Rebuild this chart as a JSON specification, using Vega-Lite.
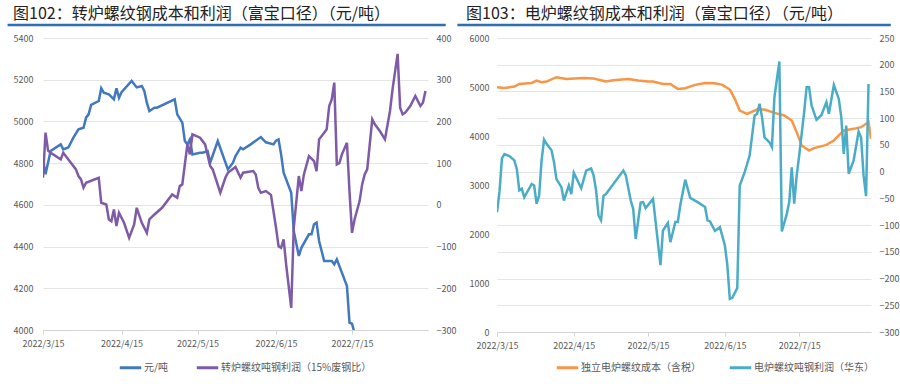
{
  "$schema": "https://vega.github.io/schema/vega-lite/v6.json",
  "background": "white",
  "padding": {"left": 5, "top": 5, "right": 1, "bottom": 2},
  "config": {
    "font": "Noto Sans CJK SC",
    "view": {"stroke": null},
    "axis": {"labelFont": "Noto Sans CJK SC", "labelFontSize": 9, "labelColor": "#595959", "domain": false, "ticks": false, "gridColor": "#e4e4e4", "gridWidth": 1},
    "legend": {"labelFont": "Noto Sans CJK SC", "labelFontSize": 10, "labelColor": "#595959", "symbolType": "stroke", "symbolStrokeWidth": 3, "symbolSize": 460, "labelOffset": 1, "columnPadding": 22, "padding": 0},
    "title": {"font": "Noto Sans CJK SC", "fontSize": 16, "fontWeight": "normal", "color": "#222222", "anchor": "start", "frame": "bounds"}
  },
  "datasets": {
    "bof_cost": [
      {"date": "2022/03/15", "value": 4818}, {"date": "2022/03/16", "value": 4747}, {"date": "2022/03/18", "value": 4858},
      {"date": "2022/03/22", "value": 4890}, {"date": "2022/03/23", "value": 4866}, {"date": "2022/03/25", "value": 4875},
      {"date": "2022/03/27", "value": 4922}, {"date": "2022/03/29", "value": 4962}, {"date": "2022/03/31", "value": 4970},
      {"date": "2022/04/01", "value": 5018}, {"date": "2022/04/02", "value": 5034}, {"date": "2022/04/03", "value": 5079},
      {"date": "2022/04/06", "value": 5098}, {"date": "2022/04/07", "value": 5159}, {"date": "2022/04/08", "value": 5138},
      {"date": "2022/04/10", "value": 5130}, {"date": "2022/04/12", "value": 5106}, {"date": "2022/04/13", "value": 5159},
      {"date": "2022/04/14", "value": 5113}, {"date": "2022/04/15", "value": 5140}, {"date": "2022/04/19", "value": 5194},
      {"date": "2022/04/21", "value": 5163}, {"date": "2022/04/23", "value": 5170}, {"date": "2022/04/24", "value": 5146},
      {"date": "2022/04/25", "value": 5090}, {"date": "2022/04/26", "value": 5050}, {"date": "2022/04/28", "value": 5066},
      {"date": "2022/04/29", "value": 5066}, {"date": "2022/05/06", "value": 5106}, {"date": "2022/05/07", "value": 5034},
      {"date": "2022/05/09", "value": 4994}, {"date": "2022/05/10", "value": 4906}, {"date": "2022/05/11", "value": 4890},
      {"date": "2022/05/12", "value": 4914}, {"date": "2022/05/13", "value": 4842}, {"date": "2022/05/16", "value": 4850},
      {"date": "2022/05/17", "value": 4850}, {"date": "2022/05/19", "value": 4858}, {"date": "2022/05/20", "value": 4802},
      {"date": "2022/05/23", "value": 4906}, {"date": "2022/05/27", "value": 4770}, {"date": "2022/05/29", "value": 4802},
      {"date": "2022/05/30", "value": 4834}, {"date": "2022/06/01", "value": 4874}, {"date": "2022/06/02", "value": 4866},
      {"date": "2022/06/05", "value": 4890}, {"date": "2022/06/09", "value": 4925}, {"date": "2022/06/11", "value": 4900},
      {"date": "2022/06/14", "value": 4890}, {"date": "2022/06/15", "value": 4908}, {"date": "2022/06/16", "value": 4914},
      {"date": "2022/06/17", "value": 4842}, {"date": "2022/06/18", "value": 4754}, {"date": "2022/06/21", "value": 4658},
      {"date": "2022/06/22", "value": 4475}, {"date": "2022/06/24", "value": 4355}, {"date": "2022/06/25", "value": 4394},
      {"date": "2022/06/28", "value": 4459}, {"date": "2022/06/29", "value": 4459}, {"date": "2022/06/30", "value": 4507},
      {"date": "2022/07/01", "value": 4515}, {"date": "2022/07/02", "value": 4427}, {"date": "2022/07/04", "value": 4331},
      {"date": "2022/07/07", "value": 4331}, {"date": "2022/07/08", "value": 4315}, {"date": "2022/07/09", "value": 4339},
      {"date": "2022/07/11", "value": 4275}, {"date": "2022/07/13", "value": 4211}, {"date": "2022/07/14", "value": 4035},
      {"date": "2022/07/15", "value": 4030}, {"date": "2022/07/16", "value": 3985}
    ],
    "bof_profit": [
      {"date": "2022/03/15", "value": 65}, {"date": "2022/03/16", "value": 173}, {"date": "2022/03/17", "value": 130},
      {"date": "2022/03/18", "value": 125}, {"date": "2022/03/22", "value": 109}, {"date": "2022/03/23", "value": 125},
      {"date": "2022/03/26", "value": 101}, {"date": "2022/03/28", "value": 85}, {"date": "2022/03/29", "value": 69},
      {"date": "2022/03/30", "value": 61}, {"date": "2022/03/31", "value": 41}, {"date": "2022/04/01", "value": 53},
      {"date": "2022/04/06", "value": 65}, {"date": "2022/04/07", "value": 5}, {"date": "2022/04/09", "value": 1},
      {"date": "2022/04/10", "value": -35}, {"date": "2022/04/11", "value": -39}, {"date": "2022/04/12", "value": -11},
      {"date": "2022/04/13", "value": -51}, {"date": "2022/04/14", "value": -19}, {"date": "2022/04/16", "value": -43},
      {"date": "2022/04/18", "value": -79}, {"date": "2022/04/20", "value": -47}, {"date": "2022/04/21", "value": -7},
      {"date": "2022/04/23", "value": -43}, {"date": "2022/04/25", "value": -67}, {"date": "2022/04/26", "value": -35},
      {"date": "2022/04/28", "value": -23}, {"date": "2022/05/01", "value": -7}, {"date": "2022/05/05", "value": 25},
      {"date": "2022/05/07", "value": 17}, {"date": "2022/05/08", "value": 45}, {"date": "2022/05/09", "value": 49},
      {"date": "2022/05/11", "value": 145}, {"date": "2022/05/12", "value": 121}, {"date": "2022/05/13", "value": 169},
      {"date": "2022/05/16", "value": 161}, {"date": "2022/05/18", "value": 145}, {"date": "2022/05/20", "value": 93},
      {"date": "2022/05/21", "value": 85}, {"date": "2022/05/24", "value": 29}, {"date": "2022/05/26", "value": 65},
      {"date": "2022/05/27", "value": 77}, {"date": "2022/05/30", "value": 91}, {"date": "2022/06/01", "value": 65},
      {"date": "2022/06/02", "value": 77}, {"date": "2022/06/06", "value": 81}, {"date": "2022/06/07", "value": 73},
      {"date": "2022/06/08", "value": 41}, {"date": "2022/06/09", "value": 29}, {"date": "2022/06/11", "value": 33},
      {"date": "2022/06/13", "value": 24}, {"date": "2022/06/15", "value": -55}, {"date": "2022/06/16", "value": -99},
      {"date": "2022/06/17", "value": -103}, {"date": "2022/06/18", "value": -83}, {"date": "2022/06/19", "value": -143},
      {"date": "2022/06/21", "value": -247}, {"date": "2022/06/22", "value": -55}, {"date": "2022/06/24", "value": 69},
      {"date": "2022/06/25", "value": 33}, {"date": "2022/06/26", "value": 73}, {"date": "2022/06/28", "value": 117},
      {"date": "2022/06/30", "value": 105}, {"date": "2022/07/01", "value": 81}, {"date": "2022/07/02", "value": 157},
      {"date": "2022/07/04", "value": 173}, {"date": "2022/07/05", "value": 181}, {"date": "2022/07/06", "value": 237},
      {"date": "2022/07/07", "value": 253}, {"date": "2022/07/08", "value": 293}, {"date": "2022/07/09", "value": 97},
      {"date": "2022/07/10", "value": 100}, {"date": "2022/07/11", "value": 121}, {"date": "2022/07/13", "value": 149},
      {"date": "2022/07/14", "value": 33}, {"date": "2022/07/15", "value": -67}, {"date": "2022/07/16", "value": -35},
      {"date": "2022/07/18", "value": 9}, {"date": "2022/07/19", "value": 49}, {"date": "2022/07/20", "value": 73},
      {"date": "2022/07/21", "value": 85}, {"date": "2022/07/23", "value": 205}, {"date": "2022/07/24", "value": 193},
      {"date": "2022/07/26", "value": 177}, {"date": "2022/07/28", "value": 157}, {"date": "2022/07/30", "value": 225},
      {"date": "2022/07/31", "value": 277}, {"date": "2022/08/02", "value": 362}, {"date": "2022/08/03", "value": 233},
      {"date": "2022/08/04", "value": 217}, {"date": "2022/08/05", "value": 221}, {"date": "2022/08/07", "value": 237},
      {"date": "2022/08/09", "value": 261}, {"date": "2022/08/11", "value": 237}, {"date": "2022/08/12", "value": 245},
      {"date": "2022/08/13", "value": 273}
    ],
    "eaf_cost": [
      {"date": "2022/03/15", "value": 4995}, {"date": "2022/03/18", "value": 4982}, {"date": "2022/03/22", "value": 5009},
      {"date": "2022/03/24", "value": 5063}, {"date": "2022/03/29", "value": 5083}, {"date": "2022/03/31", "value": 5132},
      {"date": "2022/04/02", "value": 5097}, {"date": "2022/04/04", "value": 5111}, {"date": "2022/04/08", "value": 5200},
      {"date": "2022/04/12", "value": 5165}, {"date": "2022/04/19", "value": 5185}, {"date": "2022/04/23", "value": 5175},
      {"date": "2022/04/28", "value": 5111}, {"date": "2022/05/01", "value": 5138}, {"date": "2022/05/07", "value": 5165},
      {"date": "2022/05/11", "value": 5132}, {"date": "2022/05/15", "value": 5111}, {"date": "2022/05/17", "value": 5111},
      {"date": "2022/05/21", "value": 5063}, {"date": "2022/05/24", "value": 5063}, {"date": "2022/05/27", "value": 4961},
      {"date": "2022/05/30", "value": 4975}, {"date": "2022/06/03", "value": 5043}, {"date": "2022/06/07", "value": 5083},
      {"date": "2022/06/11", "value": 5077}, {"date": "2022/06/14", "value": 5043}, {"date": "2022/06/17", "value": 4948},
      {"date": "2022/06/19", "value": 4757}, {"date": "2022/06/21", "value": 4520}, {"date": "2022/06/24", "value": 4452},
      {"date": "2022/06/28", "value": 4540}, {"date": "2022/07/01", "value": 4541}, {"date": "2022/07/05", "value": 4472},
      {"date": "2022/07/09", "value": 4418}, {"date": "2022/07/12", "value": 4316}, {"date": "2022/07/14", "value": 4078},
      {"date": "2022/07/16", "value": 3807}, {"date": "2022/07/19", "value": 3705}, {"date": "2022/07/21", "value": 3752},
      {"date": "2022/07/26", "value": 3819}, {"date": "2022/07/29", "value": 3909}, {"date": "2022/08/02", "value": 4113},
      {"date": "2022/08/06", "value": 4146}, {"date": "2022/08/09", "value": 4180}, {"date": "2022/08/12", "value": 4282},
      {"date": "2022/08/13", "value": 3941}
    ],
    "eaf_profit": [
      {"date": "2022/03/15", "value": -76}, {"date": "2022/03/16", "value": -38}, {"date": "2022/03/17", "value": 25},
      {"date": "2022/03/18", "value": 33}, {"date": "2022/03/20", "value": 29}, {"date": "2022/03/22", "value": 21},
      {"date": "2022/03/23", "value": 5}, {"date": "2022/03/24", "value": -35}, {"date": "2022/03/25", "value": -32},
      {"date": "2022/03/26", "value": -48}, {"date": "2022/03/29", "value": -23}, {"date": "2022/03/30", "value": -26},
      {"date": "2022/03/31", "value": -60}, {"date": "2022/04/01", "value": -45}, {"date": "2022/04/02", "value": 21},
      {"date": "2022/04/03", "value": 60}, {"date": "2022/04/04", "value": 52}, {"date": "2022/04/06", "value": 40},
      {"date": "2022/04/07", "value": 18}, {"date": "2022/04/08", "value": -14}, {"date": "2022/04/10", "value": -29},
      {"date": "2022/04/11", "value": -54}, {"date": "2022/04/13", "value": -26}, {"date": "2022/04/14", "value": -42},
      {"date": "2022/04/15", "value": -2}, {"date": "2022/04/18", "value": -31}, {"date": "2022/04/20", "value": 2},
      {"date": "2022/04/22", "value": 6}, {"date": "2022/04/23", "value": -7}, {"date": "2022/04/24", "value": -35},
      {"date": "2022/04/25", "value": -82}, {"date": "2022/04/26", "value": -91}, {"date": "2022/04/27", "value": -45},
      {"date": "2022/04/28", "value": -42}, {"date": "2022/05/05", "value": 2}, {"date": "2022/05/06", "value": -7},
      {"date": "2022/05/08", "value": -54}, {"date": "2022/05/09", "value": -70}, {"date": "2022/05/10", "value": -126},
      {"date": "2022/05/12", "value": -58}, {"date": "2022/05/13", "value": -57}, {"date": "2022/05/14", "value": -68},
      {"date": "2022/05/17", "value": -51}, {"date": "2022/05/20", "value": -175}, {"date": "2022/05/21", "value": -110},
      {"date": "2022/05/23", "value": -96}, {"date": "2022/05/24", "value": -132}, {"date": "2022/05/26", "value": -94},
      {"date": "2022/05/27", "value": -94}, {"date": "2022/05/28", "value": -63}, {"date": "2022/05/30", "value": -15},
      {"date": "2022/06/01", "value": -49}, {"date": "2022/06/04", "value": -57}, {"date": "2022/06/07", "value": -66},
      {"date": "2022/06/08", "value": -91}, {"date": "2022/06/09", "value": -93}, {"date": "2022/06/11", "value": -111},
      {"date": "2022/06/13", "value": -104}, {"date": "2022/06/15", "value": -138}, {"date": "2022/06/16", "value": -175},
      {"date": "2022/06/17", "value": -238}, {"date": "2022/06/18", "value": -236}, {"date": "2022/06/20", "value": -218},
      {"date": "2022/06/21", "value": -26}, {"date": "2022/06/23", "value": -1}, {"date": "2022/06/25", "value": 30},
      {"date": "2022/06/27", "value": 105}, {"date": "2022/06/28", "value": 108}, {"date": "2022/06/29", "value": 127},
      {"date": "2022/06/30", "value": 102}, {"date": "2022/07/01", "value": 64}, {"date": "2022/07/03", "value": 55},
      {"date": "2022/07/04", "value": 46}, {"date": "2022/07/05", "value": 139}, {"date": "2022/07/07", "value": 206},
      {"date": "2022/07/08", "value": -112}, {"date": "2022/07/10", "value": -79}, {"date": "2022/07/11", "value": -57},
      {"date": "2022/07/12", "value": 8}, {"date": "2022/07/13", "value": -60}, {"date": "2022/07/14", "value": -7},
      {"date": "2022/07/15", "value": 30}, {"date": "2022/07/17", "value": 111}, {"date": "2022/07/18", "value": 158},
      {"date": "2022/07/19", "value": 158}, {"date": "2022/07/20", "value": 124}, {"date": "2022/07/22", "value": 97},
      {"date": "2022/07/24", "value": 106}, {"date": "2022/07/26", "value": 130}, {"date": "2022/07/27", "value": 108},
      {"date": "2022/07/29", "value": 162}, {"date": "2022/07/31", "value": 136}, {"date": "2022/08/01", "value": 102},
      {"date": "2022/08/02", "value": 33}, {"date": "2022/08/03", "value": 86}, {"date": "2022/08/04", "value": -4},
      {"date": "2022/08/06", "value": 21}, {"date": "2022/08/08", "value": 75}, {"date": "2022/08/09", "value": 64},
      {"date": "2022/08/10", "value": -7}, {"date": "2022/08/11", "value": -46}, {"date": "2022/08/12", "value": 164}
    ]
  },
  "spacing": 0,
  "resolve": {"scale": {"x": "independent", "y": "independent", "color": "independent"}, "legend": {"color": "independent"}},
  "hconcat": [
    {
      "width": 385, "height": 292,
      "title": {"text": "图102：转炉螺纹钢成本和利润（富宝口径）（元/吨）", "anchor": "start", "align": "left", "frame": "bounds", "dx": 8, "offset": 2},
      "resolve": {"scale": {"y": "independent"}},
      "layer": [
        {
          "data": {"name": "bof_cost"},
          "mark": {"type": "line", "clip": true, "strokeWidth": 2.5},
          "encoding": {
            "x": {"field": "date", "type": "temporal",
              "scale": {"domain": [{"year": 2022, "month": 3, "date": 15}, {"year": 2022, "month": 8, "date": 14}]},
              "axis": {"title": null, "format": "%Y/%-m/%-d", "grid": false, "domain": true, "domainColor": "#d4d4d4", "ticks": true, "tickColor": "#d4d4d4", "tickSize": 4, "labelPadding": 5, "labelFlush": false, "labelOverlap": false,
                "values": [{"year": 2022, "month": 3, "date": 15}, {"year": 2022, "month": 4, "date": 15}, {"year": 2022, "month": 5, "date": 15}, {"year": 2022, "month": 6, "date": 15}, {"year": 2022, "month": 7, "date": 15}]}},
            "y": {"field": "value", "type": "quantitative",
              "scale": {"domain": [4000, 5400], "nice": false, "zero": false},
              "axis": {"title": null, "orient": "left", "format": "d", "values": [4000, 4200, 4400, 4600, 4800, 5000, 5200, 5400], "grid": true, "labelPadding": 10, "minExtent": 38, "maxExtent": 38}},
            "color": {"datum": "元/吨", "type": "nominal",
              "scale": {"domain": ["元/吨", "转炉螺纹吨钢利润（15%废钢比）"], "range": ["#4178BE", "#7E5BA6"]},
              "legend": {"title": null, "orient": "none", "direction": "horizontal", "legendX": 75, "legendY": 317}}
          }
        },
        {
          "data": {"name": "bof_profit"},
          "mark": {"type": "line", "clip": true, "strokeWidth": 2.5},
          "encoding": {
            "x": {"field": "date", "type": "temporal"},
            "y": {"field": "value", "type": "quantitative",
              "scale": {"domain": [-300, 400], "nice": false},
              "axis": {"title": null, "orient": "right", "format": "d", "values": [-300, -200, -100, 0, 100, 200, 300, 400], "grid": false, "labelPadding": 8, "minExtent": 26, "maxExtent": 26}},
            "color": {"datum": "转炉螺纹吨钢利润（15%废钢比）", "type": "nominal"}
          }
        },
        {
          "data": {"values": [{"from": "2022/03/01", "to": "2022/08/21", "level": 5462}]},
          "mark": {"type": "rule", "color": "#2f6db5", "strokeWidth": 2.5, "clip": false},
          "encoding": {
            "x": {"field": "from", "type": "temporal"},
            "x2": {"field": "to"},
            "y": {"field": "level", "type": "quantitative", "scale": {"domain": [4000, 5400], "nice": false, "zero": false}, "axis": null}
          }
        }
      ]
    },
    {
      "width": 374, "height": 294,
      "title": {"text": "图103：电炉螺纹钢成本和利润（富宝口径）（元/吨）", "anchor": "start", "align": "left", "frame": "bounds", "dx": 10, "offset": 2},
      "resolve": {"scale": {"y": "independent"}},
      "layer": [
        {
          "data": {"name": "eaf_cost"},
          "mark": {"type": "line", "clip": true, "strokeWidth": 2.5},
          "encoding": {
            "x": {"field": "date", "type": "temporal",
              "scale": {"domain": [{"year": 2022, "month": 3, "date": 15}, {"year": 2022, "month": 8, "date": 13}]},
              "axis": {"title": null, "format": "%Y/%-m/%-d", "grid": false, "domain": true, "domainColor": "#d4d4d4", "ticks": true, "tickColor": "#d4d4d4", "tickSize": 4, "labelPadding": 5, "labelFlush": false, "labelOverlap": false,
                "values": [{"year": 2022, "month": 3, "date": 15}, {"year": 2022, "month": 4, "date": 15}, {"year": 2022, "month": 5, "date": 15}, {"year": 2022, "month": 6, "date": 15}, {"year": 2022, "month": 7, "date": 15}]}},
            "y": {"field": "value", "type": "quantitative",
              "scale": {"domain": [0, 6000], "nice": false},
              "axis": {"title": null, "orient": "left", "format": "d", "values": [0, 1000, 2000, 3000, 4000, 5000, 6000], "grid": false, "labelPadding": 8, "minExtent": 41, "maxExtent": 41}},
            "color": {"datum": "独立电炉螺纹成本（含税）", "type": "nominal",
              "scale": {"domain": ["独立电炉螺纹成本（含税）", "电炉螺纹吨钢利润（华东）"], "range": ["#F79646", "#4BACC6"]},
              "legend": {"title": null, "orient": "none", "direction": "horizontal", "legendX": 58, "legendY": 317}}
          }
        },
        {
          "data": {"name": "eaf_profit"},
          "mark": {"type": "line", "clip": true, "strokeWidth": 2.5},
          "encoding": {
            "x": {"field": "date", "type": "temporal"},
            "y": {"field": "value", "type": "quantitative",
              "scale": {"domain": [-300, 250], "nice": false},
              "axis": {"title": null, "orient": "right", "format": "d", "values": [-300, -250, -200, -150, -100, -50, 0, 50, 100, 150, 200, 250], "grid": true, "labelPadding": 8, "minExtent": 28, "maxExtent": 28}},
            "color": {"datum": "电炉螺纹吨钢利润（华东）", "type": "nominal"}
          }
        },
        {
          "data": {"values": [{"from": "2022/02/27", "to": "2022/08/21", "level": 6265}]},
          "mark": {"type": "rule", "color": "#2f6db5", "strokeWidth": 2.5, "clip": false},
          "encoding": {
            "x": {"field": "from", "type": "temporal"},
            "x2": {"field": "to"},
            "y": {"field": "level", "type": "quantitative", "scale": {"domain": [0, 6000], "nice": false}, "axis": null}
          }
        }
      ]
    }
  ]
}
